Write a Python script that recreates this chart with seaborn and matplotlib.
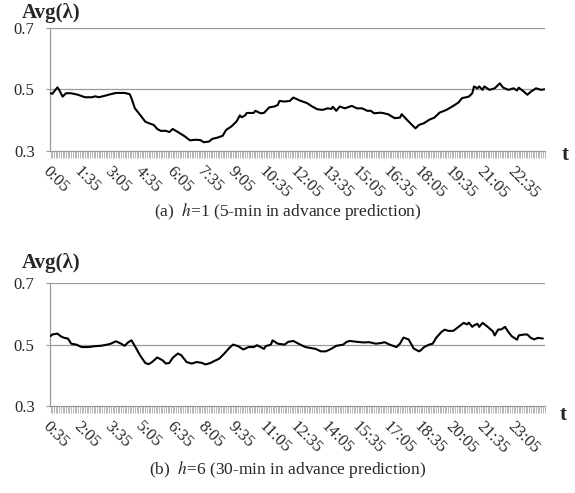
import matplotlib
matplotlib.use('Agg')
import matplotlib.pyplot as plt
import seaborn as sns
import pandas as pd

sns.set_style('white')
plt.rcParams['font.family'] = ['Liberation Serif', 'DejaVu Serif']
plt.rcParams['mathtext.fontset'] = 'stix'

# (a) h=1 : posições (passo de 5 min, 0 = 0:05) e valores lidos
passo_a = [0, 1, 4, 5, 7, 9, 12, 16, 20, 24, 26, 28, 31, 35, 38, 43, 46, 47, 49, 52,
           55, 57, 60, 62, 64, 67, 69, 71, 74, 78, 81, 84, 87, 89, 92, 94, 97, 100, 102, 105,
           108, 110, 111, 113, 114, 118, 119, 122, 124, 127, 130, 132, 133, 136, 139, 141, 145, 149, 152, 155,
           158, 161, 163, 164, 166, 168, 171, 175, 178, 181, 184, 186, 188, 192, 196, 200, 203, 204, 207, 210,
           212, 214, 217, 220, 223, 226, 230, 234, 237, 239, 243, 245, 246, 248, 249, 251, 252, 255, 258, 261,
           263, 266, 269, 271, 272, 275, 277, 279, 282, 285, 287]
valor_a = [0.487, 0.485, 0.506, 0.498, 0.476, 0.487, 0.487, 0.482, 0.474, 0.474, 0.477, 0.474, 0.478, 0.484, 0.488, 0.488, 0.484, 0.471, 0.438, 0.417,
           0.395, 0.390, 0.384, 0.371, 0.365, 0.365, 0.361, 0.371, 0.361, 0.347, 0.334, 0.336, 0.335, 0.328, 0.330, 0.339, 0.343, 0.349, 0.368, 0.379,
           0.395, 0.415, 0.409, 0.415, 0.423, 0.423, 0.430, 0.422, 0.423, 0.441, 0.444, 0.449, 0.462, 0.460, 0.462, 0.473, 0.463, 0.455, 0.444, 0.435,
           0.433, 0.438, 0.436, 0.443, 0.430, 0.444, 0.438, 0.446, 0.438, 0.438, 0.430, 0.430, 0.422, 0.424, 0.419, 0.406, 0.408, 0.419, 0.401, 0.384,
           0.373, 0.384, 0.390, 0.401, 0.408, 0.424, 0.433, 0.446, 0.457, 0.471, 0.476, 0.487, 0.509, 0.503, 0.509, 0.498, 0.509, 0.498, 0.503, 0.519,
           0.505, 0.498, 0.503, 0.496, 0.505, 0.492, 0.482, 0.492, 0.503, 0.498, 0.500]

# (b) h=6 : posições (0 = 0:35) e valores lidos
passo_b = [0, 1, 4, 6, 8, 10, 11, 12, 15, 18, 22, 26, 29, 33, 35, 38, 41, 43, 45, 47,
           49, 52, 55, 57, 59, 62, 65, 67, 69, 71, 74, 76, 79, 82, 85, 88, 90, 93, 95, 98,
           101, 104, 106, 109, 112, 115, 118, 120, 122, 124, 125, 128, 129, 132, 136, 138, 141, 144, 148, 151,
           154, 157, 160, 163, 166, 170, 172, 174, 178, 182, 185, 189, 192, 194, 197, 201, 203, 205, 208, 211,
           214, 215, 217, 220, 222, 224, 227, 229, 231, 234, 237, 240, 242, 243, 245, 246, 248, 249, 251, 254,
           257, 258, 260, 262, 264, 266, 268, 271, 272, 275, 277, 279, 281, 283, 286]
valor_b = [0.528, 0.533, 0.536, 0.527, 0.522, 0.520, 0.512, 0.503, 0.500, 0.492, 0.492, 0.495, 0.496, 0.500, 0.503, 0.511, 0.503, 0.496, 0.507, 0.514,
           0.495, 0.465, 0.440, 0.436, 0.443, 0.458, 0.449, 0.438, 0.440, 0.457, 0.471, 0.465, 0.443, 0.438, 0.443, 0.440, 0.435, 0.440, 0.446, 0.454,
           0.471, 0.490, 0.500, 0.495, 0.484, 0.492, 0.492, 0.498, 0.492, 0.486, 0.495, 0.500, 0.514, 0.503, 0.500, 0.509, 0.512, 0.503, 0.492, 0.489,
           0.486, 0.478, 0.478, 0.486, 0.496, 0.500, 0.509, 0.512, 0.509, 0.507, 0.508, 0.503, 0.505, 0.508, 0.500, 0.492, 0.503, 0.523, 0.517, 0.487,
           0.478, 0.481, 0.492, 0.500, 0.503, 0.522, 0.541, 0.549, 0.545, 0.545, 0.558, 0.571, 0.566, 0.572, 0.558, 0.563, 0.568, 0.558, 0.571, 0.558,
           0.543, 0.530, 0.549, 0.550, 0.558, 0.541, 0.527, 0.516, 0.530, 0.533, 0.533, 0.522, 0.517, 0.522, 0.520]

rotulos_a = ['0:05', '1:35', '3:05', '4:35', '6:05', '7:35', '9:05', '10:35',
             '12:05', '13:35', '15:05', '16:35', '18:05', '19:35', '21:05', '22:35']
rotulos_b = ['0:35', '2:05', '3:35', '5:05', '6:35', '8:05', '9:35', '11:05',
             '12:35', '14:05', '15:35', '17:05', '18:35', '20:05', '21:35', '23:05']
n_pontos = 288
cinza = '#9a9a9a'

fig = plt.figure(figsize=(5.75, 4.93), dpi=100)
ax_a = fig.add_axes([0.087, 0.694, 0.861, 0.250])
ax_b = fig.add_axes([0.087, 0.177, 0.861, 0.248])

paineis = [
    (ax_a, passo_a, valor_a, rotulos_a, 1.12, 1.034, -0.035),
    (ax_b, passo_b, valor_b, rotulos_b, 1.165, 1.030, -0.075),
]
for ax, passo, valor, rotulos, y_avg, x_t, y_t in paineis:
    df = pd.DataFrame({'passo': passo, 'valor': valor})
    for g in [0.5, 0.7]:
        ax.axhline(g, color=cinza, linewidth=0.9, zorder=1)
    sns.lineplot(data=df, x='passo', y='valor', ax=ax, color='black', linewidth=1.5, zorder=3)
    ax.set_xlim(-0.3, n_pontos - 0.7)
    ax.set_ylim(0.3, 0.7)
    ax.set_yticks([0.3, 0.5, 0.7])
    ax.set_yticklabels(['0.3', '0.5', '0.7'], fontsize=12)
    ax.set_xticks(list(range(0, n_pontos, 18)))
    ax.set_xticks(list(range(n_pontos)), minor=True)
    ax.set_xticklabels(rotulos, rotation=-45, ha='left', va='top',
                       rotation_mode='anchor', fontsize=12)
    ax.tick_params(axis='x', which='both', bottom=True, length=5, width=0.5,
                   color=cinza, pad=4)
    ax.tick_params(axis='y', left=True, length=3, width=0.8, color=cinza, pad=8)
    ax.set_xlabel('')
    ax.set_ylabel('')
    for lado in ['top', 'right']:
        ax.spines[lado].set_visible(False)
    for lado in ['left', 'bottom']:
        ax.spines[lado].set_color(cinza)
        ax.spines[lado].set_linewidth(0.9)
    ax.text(-0.057, y_avg, 'Avg(λ)', transform=ax.transAxes, fontsize=15,
            fontweight='bold', ha='left', va='center')
    ax.text(x_t, y_t, 't', transform=ax.transAxes, fontsize=15,
            fontweight='bold', ha='left', va='center')

fig.text(0.5, 1 - 212 / 493, '(a)  $h$=1 (5-min in advance prediction)',
         ha='center', va='center', fontsize=12.5)
fig.text(0.5, 1 - 470 / 493, '(b)  $h$=6 (30-min in advance prediction)',
         ha='center', va='center', fontsize=12.5)

plt.savefig('out.png', dpi=100)
